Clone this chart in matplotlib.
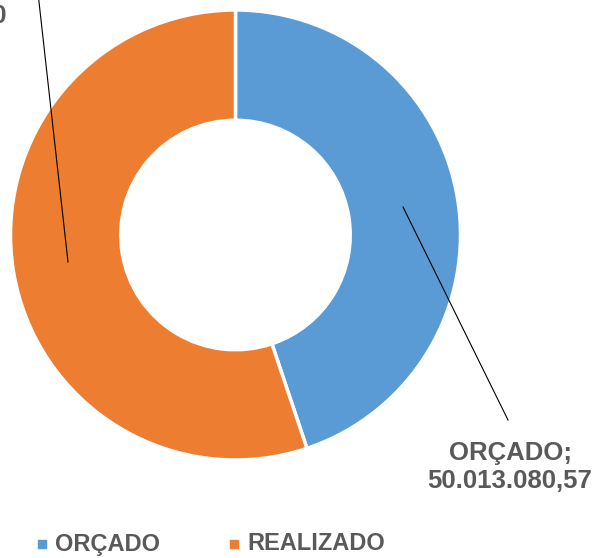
import matplotlib
matplotlib.use('Agg')
from matplotlib import pyplot as plt

# data
categorias = ['ORÇADO', 'REALIZADO']
valores = [50013080.57, 61474329.90]
cores = ['#5B9BD5', '#ED7D31']

def fmt_br(v):
    s = f'{v:,.2f}'
    return s.replace(',', 'X').replace('.', ',').replace('X', '.')

plt.rcParams['font.family'] = ['Liberation Sans', 'DejaVu Sans']
texto_cor = '#595959'

W, H = 601, 558
fig = plt.figure(figsize=(W / 100, H / 100), dpi=100)
ax = fig.add_axes([0, 0, 1, 1])
ax.set_xlim(0, W)
ax.set_ylim(0, H)
ax.axis('off')

cx, cy, r = 235.5, H - 235, 225
wedges, _ = ax.pie(valores, colors=cores, startangle=90, counterclock=False,
                   center=(cx, cy), radius=r, frame=True,
                   wedgeprops=dict(width=r * 0.49, edgecolor='white', linewidth=2.5))
ax.set_xlim(0, W)
ax.set_ylim(0, H)
ax.axis('off')

# rotulos com linha de chamada
pontos = [(403, H - 207), (68, H - 262)]
fim_linha = [(508, H - 420), (36, H + 25)]
pos_texto = [(510, H - 467), (-76, H - 2)]
for i in range(len(valores)):
    ax.plot([pontos[i][0], fim_linha[i][0]], [pontos[i][1], fim_linha[i][1]],
            color='black', lw=0.8, clip_on=False)
    ax.text(pos_texto[i][0], pos_texto[i][1],
            f'{categorias[i]};\n{fmt_br(valores[i])}',
            ha='center', va='center', fontsize=18.5, fontweight='bold',
            color=texto_cor, linespacing=1.25)

# legenda
leg_x = [42, 234]
for i, nome in enumerate(categorias):
    ax.scatter([leg_x[i]], [H - 544], marker='s', s=30, color=cores[i])
    ax.text(leg_x[i] + 13, H - 544, nome, ha='left', va='center',
            fontsize=17, fontweight='bold', color=texto_cor)

fig.savefig('out.png', dpi=100)
